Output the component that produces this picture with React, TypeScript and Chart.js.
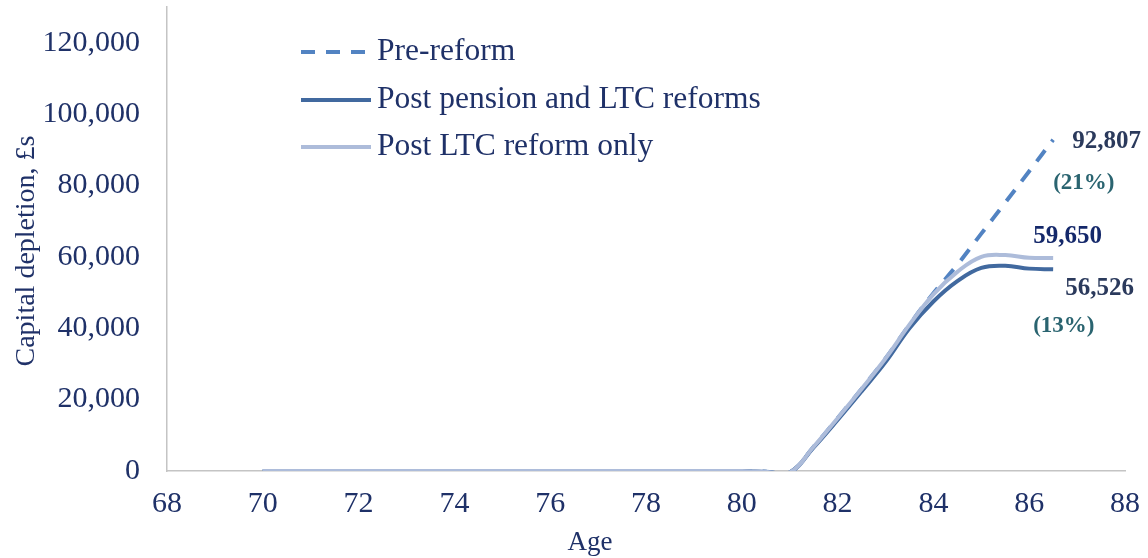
import React, { useEffect, useRef } from "react";
import { Chart, registerables } from "chart.js";

Chart.register(...registerables);

const ages = [70, 71, 72, 73, 74, 75, 76, 77, 78, 79, 80, 80.5, 81, 81.5, 82, 82.5, 83, 83.5, 84, 84.5, 85, 85.5, 86, 86.5];
const preReform = [0, 0, 0, 0, 0, 0, 0, 0, 0, 0, 0, -200, -400, 6800, 14800, 23000, 31500, 41000, 49800, 57800, 66500, 75200, 84000, 92807];
const postPensionLTC = [0, 0, 0, 0, 0, 0, 0, 0, 0, 0, 0, -200, -400, 6600, 14300, 22300, 30500, 40000, 47500, 53200, 56900, 57500, 56700, 56526];
const postLTCOnly = [0, 0, 0, 0, 0, 0, 0, 0, 0, 0, 0, -200, -400, 6800, 14800, 23000, 31500, 41000, 49500, 55800, 60000, 60500, 59750, 59650];

const xTicks = [68, 70, 72, 74, 76, 78, 80, 82, 84, 86, 88];
const yTicks = [0, 20000, 40000, 60000, 80000, 100000, 120000];

const seriesNames = ["Pre-reform", "Post pension and LTC reforms", "Post LTC reform only"];
const endLabels = ["92,807", "59,650", "56,526"];
const pctLabels = ["(21%)", "(13%)"];
const xTitle = "Age";
const yTitle = "Capital depletion, £s";

const FONT = '"Liberation Serif", "Times New Roman", serif';
const NAVY = "#1F3168";
const C_PRE = "#5283C2";
const C_DARK = "#41699F";
const C_LIGHT = "#ADBCDA";

const toPts = (vals: number[]) => ages.map((a, i) => ({ x: a, y: vals[i] }));
const fmt = (v: number) => String(Math.round(v)).replace(/\B(?=(\d{3})+(?!\d))/g, ",");

export default function App() {
  const ref = useRef<HTMLCanvasElement | null>(null);

  useEffect(() => {
    document.body.style.margin = "0";
    const canvas = ref.current;
    if (!canvas) return;

    const overlay = {
      id: "overlay",
      afterDraw(chart: any) {
        const ctx = chart.ctx;
        const xs = chart.scales.x;
        const ys = chart.scales.y;
        ctx.save();
        // legend
        const rows = [52, 100, 147];
        const cols = [C_PRE, C_DARK, C_LIGHT];
        rows.forEach((ry, i) => {
          ctx.beginPath();
          ctx.strokeStyle = cols[i];
          ctx.lineWidth = 4;
          ctx.setLineDash(i === 0 ? [14, 11] : []);
          ctx.moveTo(301, ry);
          ctx.lineTo(371, ry);
          ctx.stroke();
          ctx.setLineDash([]);
          ctx.fillStyle = NAVY;
          ctx.font = `31.5px ${FONT}`;
          ctx.textAlign = "left";
          ctx.textBaseline = "middle";
          ctx.fillText(seriesNames[i], 377, ry);
        });
        // axis titles
        ctx.fillStyle = NAVY;
        ctx.textAlign = "center";
        ctx.textBaseline = "middle";
        ctx.font = `27px ${FONT}`;
        ctx.fillText(xTitle, 590, 543);
        ctx.font = `28px ${FONT}`;
        ctx.save();
        ctx.translate(27, 251);
        ctx.rotate(-Math.PI / 2);
        ctx.fillText(yTitle, 0, 0);
        ctx.restore();
        // end annotations
        const last = ages.length - 1;
        const xEnd = xs.getPixelForValue(ages[last]);
        const yPre = ys.getPixelForValue(preReform[last]);
        const yDark = ys.getPixelForValue(postPensionLTC[last]);
        const yLight = ys.getPixelForValue(postLTCOnly[last]);
        ctx.textAlign = "left";
        ctx.font = `bold 25px ${FONT}`;
        ctx.fillStyle = "#2B3A5C";
        ctx.fillText(endLabels[0], xEnd + 19, yPre + 2);
        ctx.fillStyle = "#14286A";
        ctx.fillText(endLabels[1], xEnd - 20, yLight - 22);
        ctx.fillStyle = "#2B3A5C";
        ctx.fillText(endLabels[2], xEnd + 12, yDark + 19);
        ctx.font = `bold 23px ${FONT}`;
        ctx.fillStyle = "#2A6470";
        ctx.fillText(pctLabels[0], xEnd, yPre + 43);
        ctx.fillText(pctLabels[1], xEnd - 20, yDark + 57);
        ctx.restore();
      },
    };

    const chart = new Chart(canvas, {
      type: "line",
      data: {
        datasets: [
          {
            label: seriesNames[2],
            data: toPts(postLTCOnly),
            borderColor: C_LIGHT,
            borderWidth: 4,
            pointRadius: 0,
            tension: 0.4,
            fill: false,
            order: 0,
          },
          {
            label: seriesNames[1],
            data: toPts(postPensionLTC),
            borderColor: C_DARK,
            borderWidth: 4,
            pointRadius: 0,
            tension: 0.4,
            fill: false,
            order: 1,
          },
          {
            label: seriesNames[0],
            data: toPts(preReform),
            borderColor: C_PRE,
            borderWidth: 4,
            borderDash: [14, 11],
            pointRadius: 0,
            tension: 0.4,
            fill: false,
            order: 2,
          },
        ],
      },
      options: {
        animation: false,
        responsive: false,
        layout: { padding: { left: 0, right: 23, top: 7, bottom: 0 } },
        plugins: { legend: { display: false }, tooltip: { enabled: false } },
        scales: {
          x: {
            type: "linear",
            min: 68,
            max: 88,
            grid: { display: false, drawTicks: false },
            border: { display: true, color: "#C4C4C4", width: 1.5 },
            afterBuildTicks: (s: any) => {
              s.ticks = xTicks.map((v) => ({ value: v }));
            },
            ticks: {
              color: NAVY,
              font: { family: FONT, size: 30 },
              padding: 15,
              maxRotation: 0,
              autoSkip: false,
              callback: (v: any) => String(v),
            },
            afterFit: (s: any) => {
              s.height = 87;
              s.paddingLeft = 0;
              s.paddingRight = 0;
            },
          },
          y: {
            type: "linear",
            min: 0,
            max: 130000,
            grid: { display: false, drawTicks: false },
            border: { display: true, color: "#C4C4C4", width: 1.5 },
            afterBuildTicks: (s: any) => {
              s.ticks = yTicks.map((v) => ({ value: v }));
            },
            ticks: {
              color: NAVY,
              font: { family: FONT, size: 30 },
              padding: 27,
              autoSkip: false,
              callback: (v: any) => fmt(Number(v)),
            },
            afterFit: (s: any) => {
              s.width = 167;
              s.paddingTop = 0;
              s.paddingBottom = 0;
            },
          },
        },
      },
      plugins: [overlay],
    });
    return () => chart.destroy();
  }, []);

  return (
    <div style={{ width: 1148, height: 558, background: "#fff" }}>
      <canvas ref={ref} width={1148} height={558} />
    </div>
  );
}
